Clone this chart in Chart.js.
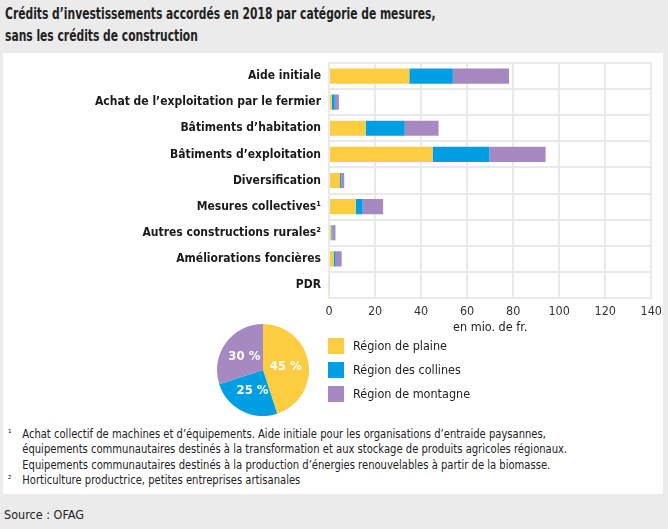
<!DOCTYPE html>
<html>
<head>
<meta charset="utf-8">
<script src="https://cdn.jsdelivr.net/npm/chart.js@4.4.1/dist/chart.umd.min.js"></script>
<style>
  html, body { margin: 0; padding: 0; }
  body { width: 668px; height: 529px; background: #ebebeb; position: relative; overflow: hidden;
         font-family: "DejaVu Sans Condensed", "Liberation Sans Narrow", sans-serif; color: #1a1a1a; }
  #title { position: absolute; left: 5px; top: 3px; font-size: 15.5px; font-weight: bold; line-height: 22px; color: #222;
           transform: scaleX(0.77); transform-origin: 0 0; white-space: nowrap; }
  #panel { position: absolute; left: 3px; top: 53px; width: 660px; height: 441px; background: #fff; }
  #barWrap { position: absolute; left: 0; top: 53px; width: 668px; height: 290px; }
  #pieWrap { position: absolute; left: 217px; top: 324px; width: 92px; height: 92px; }
  #legend { position: absolute; left: 328px; top: 338px; font-size: 12.5px; color: #222; }
  .li { position: relative; height: 24px; }
  .sw { position: absolute; left: 0; top: 0; width: 16px; height: 16px; }
  .lt { position: absolute; left: 25px; top: -1px; line-height: 18px; white-space: nowrap; }
  #notes { position: absolute; left: 8px; top: 426px; font-size: 12.5px; line-height: 15.3px; color: #222;
           transform: scaleX(0.89); transform-origin: 0 0; }
  .fn { position: relative; padding-left: 16px; white-space: nowrap; }
  .fn sup { position: absolute; left: 0; top: 0; font-size: 11px; vertical-align: baseline; }
  #source { position: absolute; left: 4px; top: 507px; font-size: 12.5px; color: #222; }
</style>
</head>
<body>
<div id="title">Crédits d’investissements accordés en 2018 par catégorie de mesures,<br>sans les crédits de construction</div>
<div id="panel"></div>
<div id="barWrap"><canvas id="bar"></canvas></div>
<div id="pieWrap"><canvas id="pie"></canvas></div>
<div id="legend"></div>
<div id="notes">
  <div class="fn"><sup>¹</sup>Achat collectif de machines et d’équipements. Aide initiale pour les organisations d’entraide paysannes,</div>
  <div class="fn">équipements communautaires destinés à la transformation et aux stockage de produits agricoles régionaux.</div>
  <div class="fn">Equipements communautaires destinés à la production d’énergies renouvelables à partir de la biomasse.</div>
  <div class="fn"><sup>²</sup>Horticulture productrice, petites entreprises artisanales</div>
</div>
<div id="source">Source : OFAG</div>
<script>
// ---- data ----
const categories = [
  "Aide initiale",
  "Achat de l’exploitation par le fermier",
  "Bâtiments d’habitation",
  "Bâtiments d’exploitation",
  "Diversification",
  "Mesures collectives¹",
  "Autres constructions rurales²",
  "Améliorations foncières",
  "PDR"
];
const seriesNames = ["Région de plaine", "Région des collines", "Région de montagne"];
const plaine    = [34.9, 1.2, 15.9, 45.0, 4.8, 11.6, 1.0, 2.0, 0.3];
const collines  = [18.9, 1.3, 17.0, 24.7, 0.5,  3.0, 0.5, 0.9, 0.0];
const montagne  = [24.4, 1.8, 14.7, 24.4, 1.3,  8.9, 1.3, 2.6, 0.0];
const pieShares = [45, 25, 30];
const xTicks = [0, 20, 40, 60, 80, 100, 120, 140];
const xAxisTitle = "en mio. de fr.";

const colors = ["#fdcd41", "#009fe3", "#a689c0"];
const FONT = "'DejaVu Sans Condensed', 'Liberation Sans Narrow', sans-serif";
const gridColor = "#e9e9e9";

// ---- bar chart ----
new Chart(document.getElementById('bar'), {
  type: 'bar',
  data: {
    labels: categories,
    datasets: [plaine, collines, montagne].map((d, i) => ({
      label: seriesNames[i], data: d, backgroundColor: colors[i], borderWidth: 0,
      barPercentage: 0.58, categoryPercentage: 1.0
    }))
  },
  options: {
    indexAxis: 'y', responsive: true, maintainAspectRatio: false, animation: false,
    layout: { padding: { top: 10, right: 15, bottom: 8, left: 0 } },
    plugins: { legend: { display: false }, tooltip: { enabled: false } },
    scales: {
      x: {
        stacked: true, min: 0, max: 140,
        afterBuildTicks: s => { s.ticks = xTicks.map(v => ({ value: v })); },
        afterFit: s => { s.height = 37; },
        grid: { color: gridColor, lineWidth: 2, drawTicks: false },
        border: { color: gridColor, width: 2 },
        ticks: { color: "#333", font: { family: FONT, size: 12.5 }, padding: 6 },
        title: { display: true, text: xAxisTitle, color: "#222", font: { family: FONT, size: 12.5 }, padding: 0 }
      },
      y: {
        stacked: true,
        afterFit: s => { s.width = 329; s.paddingTop = 0; s.paddingBottom = 0; },
        grid: { color: gridColor, lineWidth: 2, drawTicks: false, offset: true },
        border: { color: gridColor, width: 2 },
        ticks: { color: "#1a1a1a", font: { family: FONT, size: 12, weight: 'bold' }, padding: 8 }
      }
    }
  }
});

// ---- pie chart ----
const pieLabelPlugin = {
  id: 'pieLabels',
  afterDatasetsDraw(chart) {
    const ctx = chart.ctx;
    const meta = chart.getDatasetMeta(0);
    ctx.save();
    ctx.fillStyle = "#fff";
    ctx.font = "bold 13px " + FONT;
    ctx.textAlign = "center";
    ctx.textBaseline = "middle";
    meta.data.forEach((arc, i) => {
      const p = arc.tooltipPosition();
      ctx.fillText(pieShares[i] + " %", p.x, p.y);
    });
    ctx.restore();
  }
};
new Chart(document.getElementById('pie'), {
  type: 'pie',
  data: { labels: seriesNames, datasets: [{ data: pieShares, backgroundColor: colors, borderWidth: 0 }] },
  options: {
    responsive: true, maintainAspectRatio: false, animation: false,
    plugins: { legend: { display: false }, tooltip: { enabled: false } }
  },
  plugins: [pieLabelPlugin]
});

// ---- legend ----
const lg = document.getElementById('legend');
seriesNames.forEach((n, i) => {
  const d = document.createElement('div'); d.className = 'li';
  d.innerHTML = '<div class="sw" style="background:' + colors[i] + '"></div><div class="lt">' + n + '</div>';
  lg.appendChild(d);
});
</script>
</body>
</html>
